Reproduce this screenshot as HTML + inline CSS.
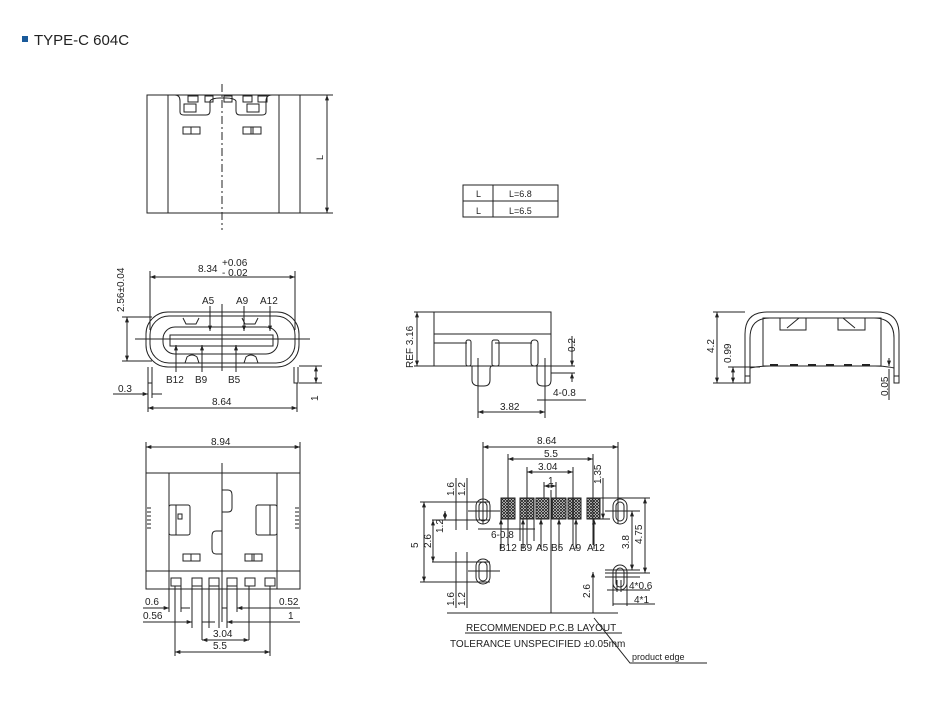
<!DOCTYPE html>
<html><head><meta charset="utf-8"><style>
html,body{margin:0;padding:0;background:#fff;}
svg{display:block;}
text{font-family:"Liberation Sans",sans-serif;fill:#222;font-size:10px;}
</style></head><body>
<svg width="931" height="707" viewBox="0 0 931 707" xmlns="http://www.w3.org/2000/svg">
<defs>
<marker id="a" viewBox="0 0 8 6" refX="8" refY="3" markerWidth="6" markerHeight="4" orient="auto-start-reverse"><path d="M0,0L8,3L0,6z" fill="#222"/></marker>
<pattern id="h" width="3" height="3" patternUnits="userSpaceOnUse"><rect width="3" height="3" fill="#fff"/><path d="M0,0L3,3M3,0L0,3" stroke="#222" stroke-width="0.9"/></pattern>
</defs>
<g stroke="#222" fill="none" stroke-width="1">
<!-- title -->
<rect x="22" y="36" width="6" height="6" fill="#1a5a9a" stroke="none"/>
<!-- TOP VIEW -->
<rect x="147" y="95" width="153" height="118"/>
<line x1="168" y1="95" x2="168" y2="213"/><line x1="279" y1="95" x2="279" y2="213"/>
<line x1="222" y1="84" x2="222" y2="230" stroke-dasharray="8,3,2,3"/>
<path d="M175,95 Q180,95 180,101 L180,112 Q180,115 184,115 L206,115 Q210,115 210,111 L210,101 Q212,98 220,98 L226,98 Q234,98 236,101 L236,111 Q236,115 240,115 L262,115 Q266,115 266,112 L266,101 Q266,95 272,95"/>
<rect x="188" y="96" width="10" height="6"/><rect x="205" y="96" width="8" height="6"/><rect x="224" y="96" width="8" height="6"/><rect x="243" y="96" width="9" height="6"/><rect x="258" y="96" width="9" height="6"/>
<rect x="184" y="104" width="12" height="8"/><rect x="247" y="104" width="12" height="8"/>
<rect x="183" y="127" width="17" height="7"/><line x1="191" y1="127" x2="191" y2="134"/>
<rect x="243" y="127" width="18" height="7"/><line x1="251" y1="127" x2="251" y2="134"/><line x1="253" y1="127" x2="253" y2="134"/>
<line x1="300" y1="95" x2="333" y2="95"/><line x1="300" y1="213" x2="333" y2="213"/>
<line x1="327" y1="95" x2="327" y2="213" marker-start="url(#a)" marker-end="url(#a)"/>
<!-- TABLE -->
<rect x="463" y="185" width="95" height="32"/><line x1="493" y1="185" x2="493" y2="217"/><line x1="463" y1="201" x2="558" y2="201"/>
<!-- FRONT VIEW -->
<rect x="146" y="312" width="153" height="55" rx="22"/>
<rect x="150" y="316" width="145" height="47" rx="19"/>
<rect x="163" y="327" width="115" height="27" rx="12"/>
<rect x="170" y="335" width="103" height="11"/>
<line x1="135" y1="339" x2="310" y2="339"/>
<line x1="222" y1="304" x2="222" y2="371"/>
<path d="M183,318 l3,6 h10 l3,-6 M242,318 l3,6 h10 l3,-6 M185,363 l2,-6 q5,-4 10,0 l2,6 M244,363 l2,-6 q5,-4 10,0 l2,6"/>
<path d="M148,367 V383 H152 V367 M294,367 V383 H298 V367"/>
<line x1="150" y1="271" x2="150" y2="330"/><line x1="295" y1="271" x2="295" y2="330"/>
<line x1="150" y1="277" x2="295" y2="277" marker-start="url(#a)" marker-end="url(#a)"/>
<line x1="122" y1="317" x2="152" y2="317"/><line x1="122" y1="361" x2="152" y2="361"/>
<line x1="127" y1="317" x2="127" y2="361" marker-start="url(#a)" marker-end="url(#a)"/>
<line x1="210" y1="306" x2="210" y2="331" marker-end="url(#a)"/><line x1="244" y1="306" x2="244" y2="331" marker-end="url(#a)"/><line x1="270" y1="306" x2="270" y2="331" marker-end="url(#a)"/>
<line x1="176" y1="372" x2="176" y2="345" marker-end="url(#a)"/><line x1="202" y1="372" x2="202" y2="345" marker-end="url(#a)"/><line x1="236" y1="372" x2="236" y2="345" marker-end="url(#a)"/>
<line x1="113" y1="394" x2="148" y2="394" marker-end="url(#a)"/><line x1="152" y1="394" x2="162" y2="394"/>
<line x1="148" y1="383" x2="148" y2="412"/><line x1="152" y1="383" x2="152" y2="398"/><line x1="297" y1="383" x2="297" y2="412"/>
<line x1="148" y1="408" x2="297" y2="408" marker-start="url(#a)" marker-end="url(#a)"/>
<line x1="299" y1="366" x2="322" y2="366"/><line x1="299" y1="383" x2="322" y2="383"/>
<line x1="316" y1="366" x2="316" y2="383" marker-start="url(#a)" marker-end="url(#a)"/>
<!-- SIDE VIEW -->
<rect x="434" y="312" width="117" height="54"/><line x1="434" y1="334" x2="551" y2="334"/>
<line x1="434" y1="343" x2="467" y2="343"/><line x1="495" y1="343" x2="532" y2="343"/>
<rect x="466" y="340" width="5" height="26" rx="2"/><rect x="492" y="340" width="7" height="26" rx="2"/><rect x="531" y="340" width="7" height="26" rx="3"/>
<path d="M472,366 V380 Q472,386 480,386 H484 Q490,386 490,380 V369 Q490,365 495,366 M537,366 V381 Q537,386 543,386 H546 Q551,386 551,380 V366"/>
<line x1="478" y1="358" x2="478" y2="418"/><line x1="545" y1="358" x2="545" y2="418"/>
<line x1="478" y1="412" x2="545" y2="412" marker-start="url(#a)" marker-end="url(#a)"/>
<line x1="537" y1="400" x2="586" y2="400"/><line x1="551" y1="366" x2="575" y2="366"/><line x1="551" y1="373" x2="575" y2="373"/>
<line x1="572" y1="336" x2="572" y2="366" marker-end="url(#a)"/><line x1="572" y1="382" x2="572" y2="373" marker-end="url(#a)"/>
<line x1="414" y1="312" x2="434" y2="312"/><line x1="414" y1="366" x2="434" y2="366"/>
<line x1="417" y1="312" x2="417" y2="366" marker-start="url(#a)" marker-end="url(#a)"/>
<!-- RIGHT VIEW -->
<path d="M745,383 V334 Q745,312 767,312 H877 Q899,312 899,334 V383"/>
<path d="M750,383 V338 Q750,318 770,318 H874 Q894,318 894,338 V383"/>
<rect x="745" y="376" width="5" height="7"/><rect x="894" y="376" width="5" height="7"/>
<rect x="763" y="318" width="118" height="48"/>
<rect x="780" y="318" width="26" height="12"/><rect x="838" y="318" width="27" height="12"/>
<path d="M787,328 L799,318 M855,328 L843,318"/>
<path d="M750,368 Q760,366 770,366 H875 Q885,366 894,368"/>
<path d="M770,365 h8 M790,365 h8 M808,365 h8 M826,365 h8 M844,365 h8 M862,365 h8" stroke-width="2"/>
<line x1="713" y1="312" x2="745" y2="312"/><line x1="713" y1="383" x2="745" y2="383"/><line x1="728" y1="367" x2="760" y2="367"/>
<line x1="717" y1="312" x2="717" y2="383" marker-start="url(#a)" marker-end="url(#a)"/>
<line x1="733" y1="367" x2="733" y2="383" marker-start="url(#a)" marker-end="url(#a)"/>
<line x1="889" y1="358" x2="889" y2="366" marker-end="url(#a)"/><line x1="889" y1="400" x2="889" y2="369"/>
<!-- BOTTOM VIEW -->
<rect x="146" y="473" width="154" height="116"/>
<line x1="169" y1="473" x2="169" y2="589"/><line x1="277" y1="473" x2="277" y2="589"/>
<line x1="146" y1="571" x2="169" y2="571"/><line x1="277" y1="571" x2="300" y2="571"/>
<path d="M169,571 H277"/>
<line x1="222" y1="463" x2="222" y2="622"/>
<path d="M222,490 H228 Q232,490 232,495 V508 Q232,512 228,512 H222 M222,531 H216 Q212,531 212,536 V549 Q212,554 216,554 H222"/>
<rect x="169" y="505" width="21" height="30" rx="2"/><rect x="256" y="505" width="21" height="30" rx="2"/>
<line x1="176" y1="505" x2="176" y2="535"/><line x1="270" y1="505" x2="270" y2="535"/>
<rect x="178" y="514" width="4" height="5"/>
<path d="M147,508 h4 M147,512 h4 M147,516 h4 M147,520 h4 M147,524 h4 M147,528 h4 M295,508 h4 M295,512 h4 M295,516 h4 M295,520 h4 M295,524 h4 M295,528 h4"/>
<rect x="183" y="554" width="17" height="7"/><line x1="191" y1="554" x2="191" y2="561"/>
<rect x="245" y="554" width="17" height="7"/><line x1="252" y1="554" x2="252" y2="561"/><line x1="254" y1="554" x2="254" y2="561"/>
<rect x="171" y="578" width="10" height="8"/><rect x="192" y="578" width="10" height="8"/><rect x="209" y="578" width="10" height="8"/><rect x="227" y="578" width="10" height="8"/><rect x="245" y="578" width="10" height="8"/><rect x="265" y="578" width="10" height="8"/>
<line x1="146" y1="442" x2="146" y2="473"/><line x1="300" y1="442" x2="300" y2="473"/>
<line x1="146" y1="447" x2="300" y2="447" marker-start="url(#a)" marker-end="url(#a)"/>
<path d="M169,586 V612 M181,586 V612 M192,586 V628 M202,586 V640 M209,586 V628 M219,586 V628 M227,586 V628 M237,586 V612 M249,586 V640 M270,586 V656 M175,586 V656"/>
<line x1="143" y1="608" x2="169" y2="608" marker-end="url(#a)"/><line x1="181" y1="608" x2="190" y2="608"/>
<line x1="143" y1="622" x2="192" y2="622" marker-end="url(#a)"/><line x1="202" y1="622" x2="215" y2="622"/>
<line x1="300" y1="608" x2="237" y2="608" marker-end="url(#a)"/><line x1="227" y1="608" x2="222" y2="608"/>
<line x1="300" y1="622" x2="227" y2="622" marker-end="url(#a)"/>
<line x1="202" y1="640" x2="249" y2="640" marker-start="url(#a)" marker-end="url(#a)"/>
<line x1="175" y1="652" x2="270" y2="652" marker-start="url(#a)" marker-end="url(#a)"/>
<!-- PCB LAYOUT -->
<rect x="501" y="498" width="14" height="21" fill="url(#h)"/><rect x="520" y="498" width="14" height="21" fill="url(#h)"/><rect x="536" y="498" width="13" height="21" fill="url(#h)"/><rect x="552" y="498" width="14" height="21" fill="url(#h)"/><rect x="568" y="498" width="13" height="21" fill="url(#h)"/><rect x="587" y="498" width="13" height="21" fill="url(#h)"/>
<rect x="476" y="499" width="14" height="25" rx="7"/><rect x="479" y="502" width="8" height="19" rx="4"/>
<rect x="476" y="559" width="14" height="25" rx="7"/><rect x="479" y="562" width="8" height="19" rx="4"/>
<rect x="613" y="499" width="14" height="25" rx="7"/><rect x="616" y="502" width="8" height="19" rx="4"/>
<rect x="613" y="565" width="14" height="25" rx="7"/><rect x="616" y="568" width="8" height="19" rx="4"/>
<line x1="483" y1="442" x2="483" y2="524"/><line x1="618" y1="442" x2="618" y2="524"/>
<line x1="483" y1="447" x2="618" y2="447" marker-start="url(#a)" marker-end="url(#a)"/>
<line x1="508" y1="454" x2="508" y2="545"/><line x1="593" y1="454" x2="593" y2="545"/>
<line x1="508" y1="459" x2="593" y2="459" marker-start="url(#a)" marker-end="url(#a)"/>
<line x1="527" y1="467" x2="527" y2="545"/><line x1="573" y1="467" x2="573" y2="545"/>
<line x1="527" y1="472" x2="573" y2="472" marker-start="url(#a)" marker-end="url(#a)"/>
<line x1="544" y1="482" x2="544" y2="498"/><line x1="556" y1="482" x2="556" y2="498"/>
<line x1="544" y1="486" x2="556" y2="486" marker-start="url(#a)" marker-end="url(#a)"/>
<line x1="551" y1="490" x2="551" y2="613"/>
<line x1="468" y1="511" x2="500" y2="511"/><line x1="468" y1="571" x2="500" y2="571"/>
<line x1="605" y1="511" x2="640" y2="511"/><line x1="605" y1="577" x2="640" y2="577"/>
<line x1="420" y1="502" x2="490" y2="502"/><line x1="432" y1="520" x2="490" y2="520"/>
<line x1="432" y1="562" x2="490" y2="562"/><line x1="420" y1="582" x2="490" y2="582"/>
<line x1="424" y1="502" x2="424" y2="582" marker-start="url(#a)" marker-end="url(#a)"/>
<line x1="433" y1="520" x2="433" y2="562" marker-start="url(#a)" marker-end="url(#a)"/>
<line x1="445" y1="511" x2="445" y2="520" marker-start="url(#a)" marker-end="url(#a)"/>
<line x1="456" y1="478" x2="456" y2="530"/><line x1="467" y1="478" x2="467" y2="530"/>
<line x1="456" y1="552" x2="456" y2="608"/><line x1="467" y1="552" x2="467" y2="608"/>
<line x1="478" y1="529" x2="535" y2="529"/><line x1="520" y1="519" x2="520" y2="541"/><line x1="534" y1="519" x2="534" y2="541"/>
<line x1="501" y1="549" x2="501" y2="519" marker-end="url(#a)"/><line x1="523" y1="549" x2="523" y2="519" marker-end="url(#a)"/><line x1="541" y1="549" x2="541" y2="519" marker-end="url(#a)"/><line x1="559" y1="549" x2="559" y2="519" marker-end="url(#a)"/><line x1="576" y1="549" x2="576" y2="519" marker-end="url(#a)"/><line x1="594" y1="549" x2="594" y2="519" marker-end="url(#a)"/>
<line x1="600" y1="498" x2="650" y2="498"/><line x1="600" y1="519" x2="610" y2="519"/>
<line x1="603" y1="478" x2="603" y2="519" marker-end="url(#a)"/>
<line x1="605" y1="573" x2="650" y2="573"/><line x1="605" y1="570" x2="640" y2="570"/>
<line x1="632" y1="511" x2="632" y2="570" marker-start="url(#a)" marker-end="url(#a)"/>
<line x1="645" y1="498" x2="645" y2="573" marker-start="url(#a)" marker-end="url(#a)"/>
<line x1="593" y1="572" x2="593" y2="613" marker-start="url(#a)"/>
<path d="M613,580 V606 M617,580 V592 M621,580 V592 M627,580 V606"/>
<line x1="607" y1="590" x2="650" y2="590"/><line x1="613" y1="604" x2="655" y2="604"/>
<line x1="447" y1="613" x2="618" y2="613"/>
<line x1="465" y1="633" x2="622" y2="633"/>
<path d="M594,618 L630,663 H707"/>
</g>
<g>
<text x="34" y="45" style="font-size:15px">TYPE-C 604C</text>
<text x="323" y="160" transform="rotate(-90 323 160)" style="font-size:9px">L</text>
<text x="476" y="197" style="font-size:9px">L</text><text x="509" y="197" style="font-size:9px">L=6.8</text>
<text x="476" y="214" style="font-size:9px">L</text><text x="509" y="214" style="font-size:9px">L=6.5</text>
<text x="198" y="272">8.34</text><text x="222" y="266">+0.06</text><text x="222" y="276">- 0.02</text>
<text x="124" y="312" transform="rotate(-90 124 312)">2.56±0.04</text>
<text x="202" y="304">A5</text><text x="236" y="304">A9</text><text x="260" y="304">A12</text>
<text x="166" y="383">B12</text><text x="195" y="383">B9</text><text x="228" y="383">B5</text>
<text x="118" y="392">0.3</text><text x="212" y="405">8.64</text>
<text x="318" y="401" transform="rotate(-90 318 401)">1</text>
<text x="413" y="368" transform="rotate(-90 413 368)">REF 3.16</text>
<text x="500" y="410">3.82</text><text x="553" y="396">4-0.8</text>
<text x="575" y="352" transform="rotate(-90 575 352)">0.2</text>
<text x="714" y="353" transform="rotate(-90 714 353)">4.2</text>
<text x="731" y="363" transform="rotate(-90 731 363)">0.99</text>
<text x="888" y="396" transform="rotate(-90 888 396)">0.05</text>
<text x="211" y="445">8.94</text>
<text x="145" y="605">0.6</text><text x="143" y="619">0.56</text>
<text x="279" y="605">0.52</text><text x="288" y="619">1</text>
<text x="213" y="637">3.04</text><text x="213" y="649">5.5</text>
<text x="537" y="444">8.64</text><text x="544" y="457">5.5</text><text x="538" y="470">3.04</text><text x="548" y="484">1</text>
<text x="454" y="496" transform="rotate(-90 454 496)">1.6</text><text x="465" y="496" transform="rotate(-90 465 496)">1.2</text>
<text x="601" y="484" transform="rotate(-90 601 484)">1.35</text>
<text x="418" y="548" transform="rotate(-90 418 548)">5</text>
<text x="431" y="548" transform="rotate(-90 431 548)">2.6</text><text x="443" y="533" transform="rotate(-90 443 533)">1.2</text>
<text x="454" y="606" transform="rotate(-90 454 606)">1.6</text><text x="465" y="606" transform="rotate(-90 465 606)">1.2</text>
<text x="491" y="538">6-0.8</text>
<text x="499" y="551">B12</text><text x="520" y="551">B9</text><text x="536" y="551">A5</text><text x="551" y="551">B5</text><text x="569" y="551">A9</text><text x="587" y="551">A12</text>
<text x="629" y="549" transform="rotate(-90 629 549)">3.8</text><text x="642" y="544" transform="rotate(-90 642 544)">4.75</text>
<text x="590" y="598" transform="rotate(-90 590 598)">2.6</text>
<text x="629" y="589">4*0.6</text><text x="634" y="603">4*1</text>
<text x="466" y="631">RECOMMENDED  P.C.B LAYOUT</text>
<text x="450" y="647">TOLERANCE UNSPECIFIED ±0.05mm</text>
<text x="632" y="660" style="font-size:9px">product edge</text>
</g>
</svg>
</body></html>
